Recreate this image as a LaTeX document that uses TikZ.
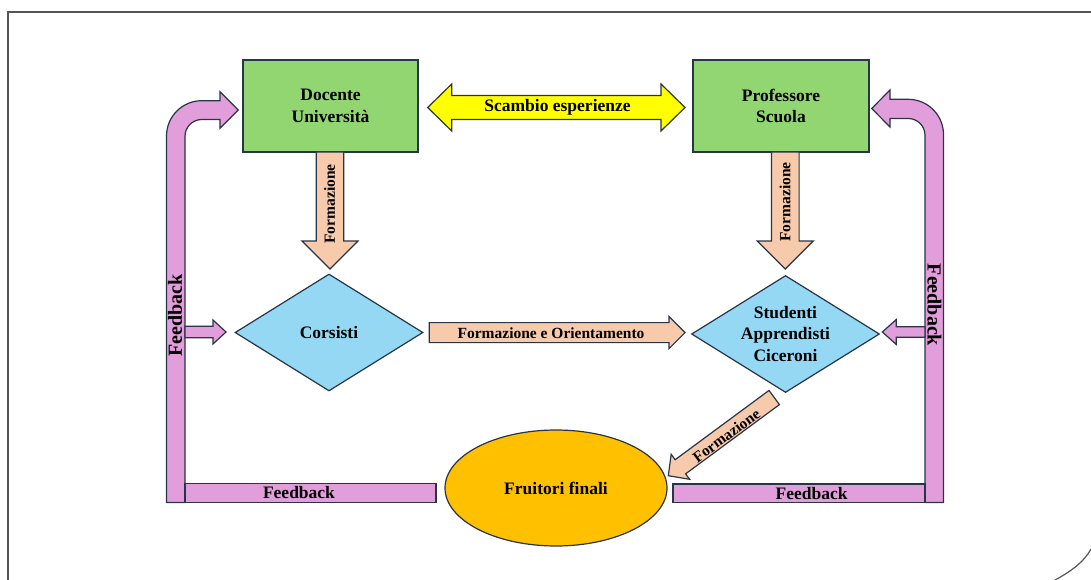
\documentclass[tikz,border=0pt]{standalone}
\usepackage{fontspec}
\setmainfont{Liberation Serif}
\usetikzlibrary{shapes.geometric,calc}
\definecolor{edge}{RGB}{40,52,72}
\definecolor{boxgreen}{RGB}{146,214,114}
\definecolor{diablue}{RGB}{148,216,244}
\definecolor{salmon}{RGB}{247,202,172}
\definecolor{fbpink}{RGB}{226,158,218}
\definecolor{ylw}{RGB}{255,255,0}
\definecolor{orng}{RGB}{255,192,0}
\definecolor{framegray}{RGB}{85,85,85}
% single block arrow: #2 tail centre, #3 tip, #4 half shaft, #5 half head, #6 head length
\newcommand\blockarrow[6][]{%
  \coordinate (ba-n) at ($(#3)!#6!(#2)$);
  \draw[#1] ($(#2)!#4!90:(#3)$) -- ($(ba-n)!#4!90:(#3)$) -- ($(ba-n)!#5!90:(#3)$) -- (#3)
    -- ($(ba-n)!#5!-90:(#3)$) -- ($(ba-n)!#4!-90:(#3)$) -- ($(#2)!#4!-90:(#3)$) -- cycle;}
% double block arrow: #2 tip, #3 tip
\newcommand\dblarrow[6][]{%
  \coordinate (da-a) at ($(#2)!#6!(#3)$);
  \coordinate (da-b) at ($(#3)!#6!(#2)$);
  \draw[#1] (#2) -- ($(da-a)!#5!90:(#3)$) -- ($(da-a)!#4!90:(#3)$) -- ($(da-b)!#4!-90:(#2)$)
    -- ($(da-b)!#5!-90:(#2)$) -- (#3) -- ($(da-b)!#5!90:(#2)$) -- ($(da-b)!#4!90:(#2)$)
    -- ($(da-a)!#4!-90:(#3)$) -- ($(da-a)!#5!-90:(#3)$) -- cycle;}
\tikzset{
  arr/.style={draw=edge, line width=1.2pt, line join=miter},
  txt/.style={font=\bfseries\fontsize{17.5}{21.5}\selectfont, text=black},
  box/.style={txt, draw=edge, line width=1.2pt, fill=boxgreen, minimum width=175pt, minimum height=92pt, align=center, inner sep=0pt},
  dia/.style={txt, diamond, draw=edge, line width=1.2pt, fill=diablue, minimum width=188pt, minimum height=117pt, aspect=1.607, align=center, inner sep=0pt},
  ell/.style={txt, ellipse, draw=edge, line width=1.2pt, fill=orng, minimum width=222pt, minimum height=116pt, inner sep=0pt},
  lbl/.style={txt, inner sep=0pt},
  small/.style={font=\bfseries\fontsize{15.5}{18}\selectfont},
  big/.style={font=\bfseries\fontsize{20}{24}\selectfont}
}
\begin{document}
\begin{tikzpicture}[x=1pt,y=-1pt]
\useasboundingbox (0,0) rectangle (1091,580);
% frame
\draw[framegray, line width=2pt] (8,580) -- (8,12) -- (1091,12);
\draw[framegray, line width=1.2pt] (1055,580) .. controls (1070,572) and (1084,562) .. (1091,549);

% nodes
\node[box] (doc) at (330.5,106) {Docente\\Università};
\node[box, minimum width=176pt] (prof) at (781,106) {Professore\\Scuola};
\node[dia] (cors) at (329,332.5) {Corsisti};
\node[dia] (stud) at (785.5,334) {Studenti\\Apprendisti\\Ciceroni};
\node[ell] (frui) at (556,488) {Fruitori finali};

% connector end points
\coordinate (ya) at (427.7,107.5);
\coordinate (yb) at (685,107.5);
\coordinate (d1s) at (330,152);
\coordinate (d1t) at (330,269);
\coordinate (d2s) at (785.3,152);
\coordinate (d2t) at (785.3,269);
\coordinate (os) at (429.3,332.6);
\coordinate (ot) at (685,332.6);
\coordinate (gs) at (774.2,397.5);
\coordinate (gt) at (668.3,475.7);
\coordinate (fls) at (185,332);
\coordinate (flt) at (226,332);
\coordinate (frs) at (925,332);
\coordinate (frt) at (882.3,332);

% scambio esperienze
\dblarrow[arr, fill=ylw]{ya}{yb}{12pt}{23.5pt}{24pt}
\node[lbl] (scambio) at (557.5,107.5) {Scambio esperienze};

% formazione arrows
\blockarrow[arr, fill=salmon]{d1s}{d1t}{13.8pt}{28pt}{28pt}
\blockarrow[arr, fill=salmon]{d2s}{d2t}{13.8pt}{28pt}{28pt}
\node[lbl, small, rotate=90] (f1) at (329.5,204) {Formazione};
\node[lbl, small, rotate=90] (f2) at (785,202) {Formazione};

\blockarrow[arr, fill=salmon]{os}{ot}{10pt}{16pt}{16pt}
\node[lbl, small] (fo) at (551,333) {Formazione e Orientamento};

\blockarrow[arr, fill=salmon]{gs}{gt}{8.8pt}{15.5pt}{15pt}
\node[lbl, small, rotate=36.4] (f3) at (726.3,435.5) {Formazione};

% feedback loops
\draw[arr, fill=fbpink] (166.5,502.5) -- (166.5,136)
  arc[start angle=180, end angle=90, radius=35.3pt] -- (220,100.7) -- (220,91.7) -- (238.3,110)
  -- (220,128.3) -- (220,119.5) -- (201.8,119.5)
  arc[start angle=90, end angle=180, radius=16.8pt] -- (185,502.5) -- cycle;
\draw[arr, fill=fbpink] (943.5,502.5) -- (943.5,134.6)
  arc[start angle=0, end angle=90, radius=35.3pt] -- (890,99.3) -- (890,90) -- (871.7,108.5)
  -- (890,127) -- (890,118.5) -- (908.2,118.5)
  arc[start angle=90, end angle=0, radius=16.8pt] -- (925,502.5) -- cycle;
\draw[arr, fill=fbpink] (185,483.5) rectangle (436,502.5);
\draw[arr, fill=fbpink] (673,484) rectangle (925,502.5);
\blockarrow[arr, fill=fbpink]{fls}{flt}{5.7pt}{12pt}{13pt}
\blockarrow[arr, fill=fbpink]{frs}{frt}{5.3pt}{12.5pt}{14pt}

\node[lbl, big, rotate=90] (fb1) at (175,315.5) {Feedback};
\node[lbl, big, rotate=-90] (fb2) at (934.5,305) {Feedback};
\node[lbl] (fb3) at (299,493) {Feedback};
\node[lbl] (fb4) at (811.7,493.5) {Feedback};
\end{tikzpicture}
\end{document}
